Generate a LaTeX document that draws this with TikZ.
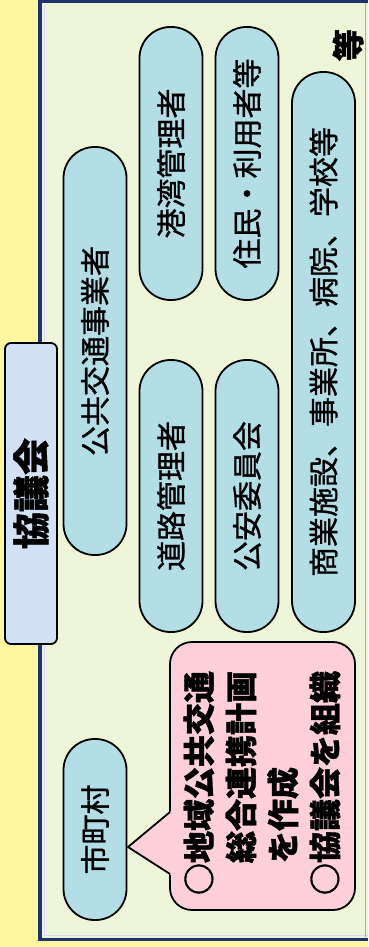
\documentclass[tikz,border=0pt]{standalone}
\usepackage{fontspec}
\newfontfamily\jp[FakeBold=1.0]{Noto Sans CJK JP}
\newfontfamily\jph[BoldFeatures={FakeBold=1.2}]{Noto Sans CJK JP}
\definecolor{bgyellow}{RGB}{255,247,160}
\definecolor{panelfill}{RGB}{238,245,216}
\definecolor{navy}{RGB}{30,50,110}
\definecolor{pillfill}{RGB}{180,222,230}
\definecolor{titlefill}{RGB}{210,225,246}
\definecolor{calloutfill}{RGB}{255,208,218}
\begin{document}
\begin{tikzpicture}[x=1pt,y=-1pt,
  pill/.style={draw=black, line width=1.8pt, fill=pillfill, rounded corners=31pt,
    rotate=90, inner sep=0pt, minimum height=63pt,
    font=\jp\fontsize{30}{30}\selectfont},
  titlebox/.style={draw=black, line width=1.8pt, fill=titlefill, rounded corners=6pt,
    rotate=90, inner sep=0pt, minimum width=301pt, minimum height=52pt,
    font=\jph\bfseries\fontsize{37}{37}\selectfont},
  callouttext/.style={rotate=90, inner sep=0pt, align=left,
    font=\jph\bfseries\fontsize{32}{42}\selectfont},
  bubble/.style={fill=calloutfill},
  bubbleline/.style={draw=black, line width=1.8pt, line join=round}]
\useasboundingbox (0,0) rectangle (368,947);
\fill[bgyellow] (0,0) rectangle (368,947);
% panel
\fill[panelfill] (40,1) rectangle (368,939);
\draw[white!60!blue!40, line width=1pt] (44,5) -- (44,935) -- (368,935);
\draw[navy!40!white, line width=0.8pt] (365,3) -- (365,937);
\draw[navy, line width=3.5pt] (368,1.2) -- (40,1.2) -- (40,939.5) -- (368,939.5);
% title
\node[titlebox] (council) at (31,493.5) {協議会};
% pills
\node[pill, minimum width=408pt] (operator) at (95,351) {公共交通事業者};
\node[pill, minimum width=273pt] (port) at (171,163.5) {港湾管理者};
\node[pill, minimum width=273pt] (residents) at (247,163.5) {住民・利用者等};
\node[pill, minimum width=560pt] (facilities) at (323.5,352) {商業施設、事業所、病院、学校等};
\node[pill, minimum width=272pt] (road) at (171,496) {道路管理者};
\node[pill, minimum width=272pt] (police) at (247,496) {公安委員会};
\node[pill, minimum width=181pt] (city) at (95,829.5) {市町村};
% callout
\coordinate (tip) at (128,847);
\draw[bubble, bubbleline, rounded corners=22pt] (170,642) rectangle (355,910);
\fill[bubble] (173,809.5) -- (tip) -- (173,876.5) -- cycle;
\draw[bubbleline] (170,812) -- (tip) -- (170,874);
\node[callouttext] (plan) at (262,783) {○地域公共交通\\　総合連携計画\\　を作成\\○協議会を組織};
\node[rotate=90, inner sep=0pt, font=\jph\bfseries\fontsize{32}{32}\selectfont] (etc) at (348,45) {等};
\end{tikzpicture}
\end{document}
